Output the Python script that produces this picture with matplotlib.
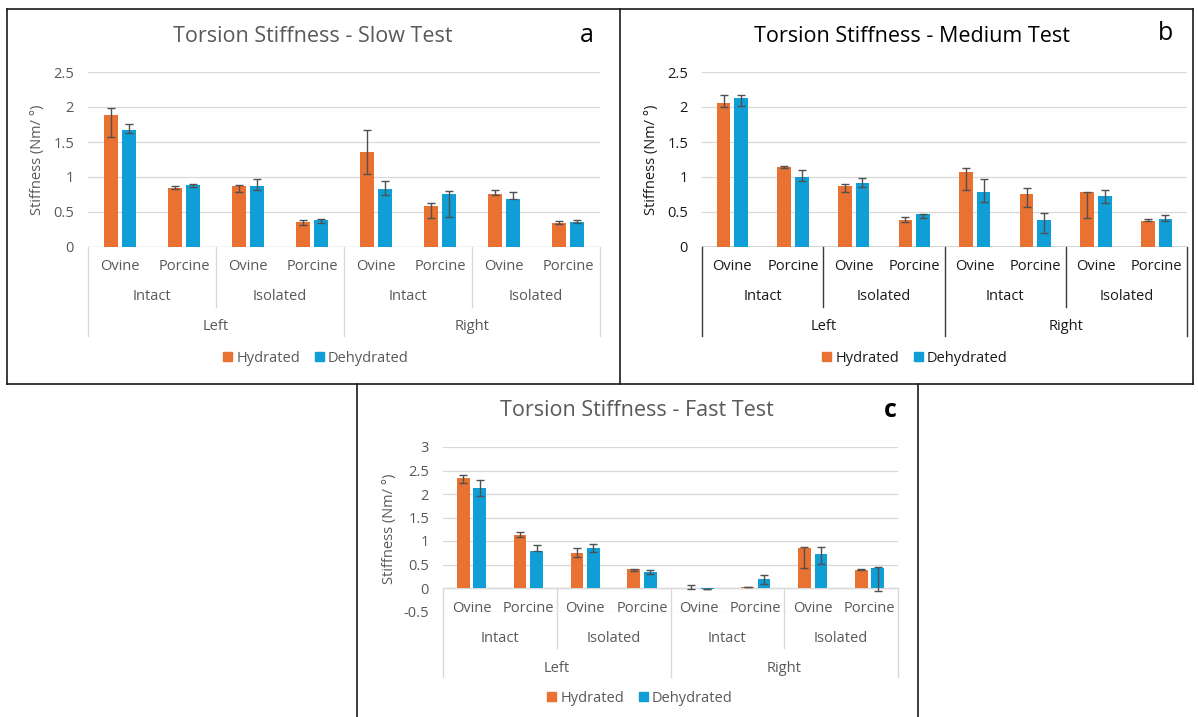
import matplotlib
matplotlib.use("Agg")
import matplotlib.pyplot as plt
from matplotlib.patches import Patch
from matplotlib.lines import Line2D
from matplotlib.transforms import blended_transform_factory
import numpy as np

plt.rcParams['font.family'] = ['Open Sans', 'DejaVu Sans']

# ---------------- data ----------------
species = ["Ovine", "Porcine"] * 4
condition = ["Intact", "Isolated", "Intact", "Isolated"]
side = ["Left", "Right"]
series_names = ["Hydrated", "Dehydrated"]

# Slow test (a)
slow_hyd = [1.88, 0.84, 0.875, 0.357, 1.36, 0.58, 0.75, 0.34]
slow_hyd_plus = [0.11, 0.027, 0.01, 0.03, 0.31, 0.05, 0.06, 0.027]
slow_hyd_minus = [0.31, 0.011, 0.09, 0.04, 0.32, 0.17, 0.012, 0.011]
slow_deh = [1.67, 0.89, 0.876, 0.39, 0.83, 0.75, 0.69, 0.357]
slow_deh_plus = [0.08, 0.015, 0.095, 0.01, 0.11, 0.055, 0.10, 0.03]
slow_deh_minus = [0.04, 0.04, 0.057, 0.047, 0.087, 0.317, 0.01, 0.02]

# Medium test (b)
med_hyd = [2.06, 1.138, 0.876, 0.39, 1.07, 0.76, 0.78, 0.375]
med_hyd_plus = [0.11, 0.024, 0.03, 0.043, 0.06, 0.083, 0.01, 0.02]
med_hyd_minus = [0.055, 0.01, 0.09, 0.028, 0.25, 0.185, 0.366, 0.005]
med_deh = [2.13, 0.995, 0.91, 0.47, 0.78, 0.39, 0.733, 0.405]
med_deh_plus = [0.04, 0.105, 0.076, 0.005, 0.19, 0.09, 0.077, 0.047]
med_deh_minus = [0.11, 0.047, 0.058, 0.056, 0.137, 0.185, 0.104, 0.029]

# Fast test (c)
fast_hyd = [2.35, 1.127, 0.746, 0.408, -0.005, 0.02, 0.852, 0.387]
fast_hyd_plus = [0.05, 0.07, 0.10, 0.005, 0.075, 0.008, 0.014, 0.014]
fast_hyd_minus = [0.11, 0.035, 0.084, 0.049, 0.025, 0.005, 0.42, 0.007]
fast_deh = [2.12, 0.796, 0.845, 0.338, -0.02, 0.197, 0.725, 0.415]
fast_deh_plus = [0.18, 0.11, 0.09, 0.042, 0.005, 0.09, 0.14, 0.036]
fast_deh_minus = [0.155, 0.005, 0.077, 0.035, 0.01, 0.105, 0.21, 0.47]

ticks_ab = [0, 0.5, 1, 1.5, 2, 2.5]
ticks_c = [-0.5, 0, 0.5, 1, 1.5, 2, 2.5, 3]
tick_labels_ab = ["0", "0.5", "1", "1.5", "2", "2.5"]
tick_labels_c = ["-0.5", "0", "0.5", "1", "1.5", "2", "2.5", "3"]

ORANGE = "#E97132"
BLUE = "#0F9ED5"

W, H = 1198, 717
fig = plt.figure(figsize=(W / 100, H / 100), dpi=100)


def fy(py):
    return 1 - py / H


def fx(px):
    return px / W


def panel(x0, x1, ytop, ybot, ylim, ticks, tlabels, hyd, hp, hm, deh, dp, dm,
          title, letter, title_xy, letter_xy, legend_xy, ylabel_x, dark=False,
          letter_bold=False):
    ax = fig.add_axes([fx(x0), fy(ybot), fx(x1) - fx(x0), fy(ytop) - fy(ybot)])
    txt = "#1a1a1a" if dark else "#595959"
    axc = "#3a3a3a" if dark else "#D9D9D9"
    n = len(hyd)
    x = np.arange(n)
    w = 0.225
    off = 0.145
    ax.bar(x - off, hyd, w, color=ORANGE, zorder=3)
    ax.bar(x + off, deh, w, color=BLUE, zorder=3)
    ek = dict(fmt='none', ecolor='#505050', elinewidth=1.0, capsize=3.2,
              capthick=1.0, zorder=4)
    ax.errorbar(x - off, hyd, yerr=[hm, hp], **ek)
    ax.errorbar(x + off, deh, yerr=[dm, dp], **ek)
    ax.set_xlim(-0.5, n - 0.5)
    ax.set_ylim(*ylim)
    ax.set_yticks(ticks)
    ax.set_yticklabels(tlabels)
    ax.tick_params(axis='y', length=0, pad=10, labelsize=10.5, labelcolor=txt)
    ax.set_xticks([])
    for s in ax.spines.values():
        s.set_visible(False)
    ax.grid(axis='y', color='#D9D9D9', linewidth=0.9, zorder=0)
    ax.set_axisbelow(True)

    # category axis (multi-level)
    tr = blended_transform_factory(ax.transData, fig.transFigure)
    y0 = ax.transData.transform((0, 0))[1]  # display px
    y0px = H - y0
    ax.axhline(0, color=axc, linewidth=1.0, zorder=2)
    for xs in [-0.5, 3.5, n - 0.5]:
        fig.add_artist(Line2D([xs, xs], [fy(y0px), fy(y0px + 89)], transform=tr,
                              color=axc, linewidth=1.0))
    for xs in [1.5, 5.5]:
        fig.add_artist(Line2D([xs, xs], [fy(y0px), fy(y0px + 60)], transform=tr,
                              color=axc, linewidth=1.0))
    for i, sp in enumerate(species):
        fig.text(i, fy(y0px + 20), sp, transform=tr, ha='center', va='center',
                 fontsize=10.5, color=txt)
    for j, c in enumerate(condition):
        fig.text(2 * j + 0.5, fy(y0px + 50), c, transform=tr, ha='center',
                 va='center', fontsize=10.5, color=txt)
    for k, s in enumerate(side):
        fig.text(4 * k + 1.5, fy(y0px + 80), s, transform=tr, ha='center',
                 va='center', fontsize=10.5, color=txt)

    fig.text(fx(ylabel_x), fy((ytop + ybot) / 2), "Stiffness (Nm/ °)",
             rotation=90, ha='center', va='center', fontsize=10.5, color=txt)
    fig.text(fx(title_xy[0]), fy(title_xy[1]), title, ha='center', va='center',
             fontsize=15.5, color="#000000" if dark else "#595959")
    fig.text(fx(letter_xy[0]), fy(letter_xy[1]), letter, ha='center',
             va='center', fontsize=18, color='black',
             fontweight='bold' if letter_bold else 'normal')
    handles = [Patch(color=ORANGE), Patch(color=BLUE)]
    fig.legend(handles, series_names, loc='center',
               bbox_to_anchor=(fx(legend_xy[0]), fy(legend_xy[1])), ncol=2,
               frameon=False, handlelength=0.6, handleheight=0.6,
               handletextpad=0.3, columnspacing=1.0, fontsize=10.5,
               labelcolor=txt, borderpad=0)
    return ax


panel(88, 600, 72, 247, (0, 2.5), ticks_ab, tick_labels_ab,
      slow_hyd, slow_hyd_plus, slow_hyd_minus, slow_deh, slow_deh_plus, slow_deh_minus,
      "Torsion Stiffness - Slow Test", "a", (313, 37), (587, 35), (316, 358), 37)
panel(702, 1187, 72, 247, (0, 2.5), ticks_ab, tick_labels_ab,
      med_hyd, med_hyd_plus, med_hyd_minus, med_deh, med_deh_plus, med_deh_minus,
      "Torsion Stiffness - Medium Test", "b", (912, 37), (1165, 34), (915, 358), 651,
      dark=True)
panel(443, 898, 447, 611.5, (-0.5, 3), ticks_c, tick_labels_c,
      fast_hyd, fast_hyd_plus, fast_hyd_minus, fast_deh, fast_deh_plus, fast_deh_minus,
      "Torsion Stiffness - Fast Test", "c", (637, 411), (890, 410), (640, 698), 389,
      letter_bold=True)

# panel borders
bk = dict(color='#1a1a1a', linewidth=1.2)
segs = [((7, 9), (1193, 9)), ((7, 384), (1193, 384)), ((7, 9), (7, 384)),
        ((620, 9), (620, 384)), ((1193, 9), (1193, 384)),
        ((357, 384), (357, 717)), ((918, 384), (918, 717))]
for (xa, ya), (xb, yb) in segs:
    fig.add_artist(Line2D([fx(xa), fx(xb)], [fy(ya), fy(yb)],
                          transform=fig.transFigure, **bk))

fig.savefig("out.png", dpi=100)
